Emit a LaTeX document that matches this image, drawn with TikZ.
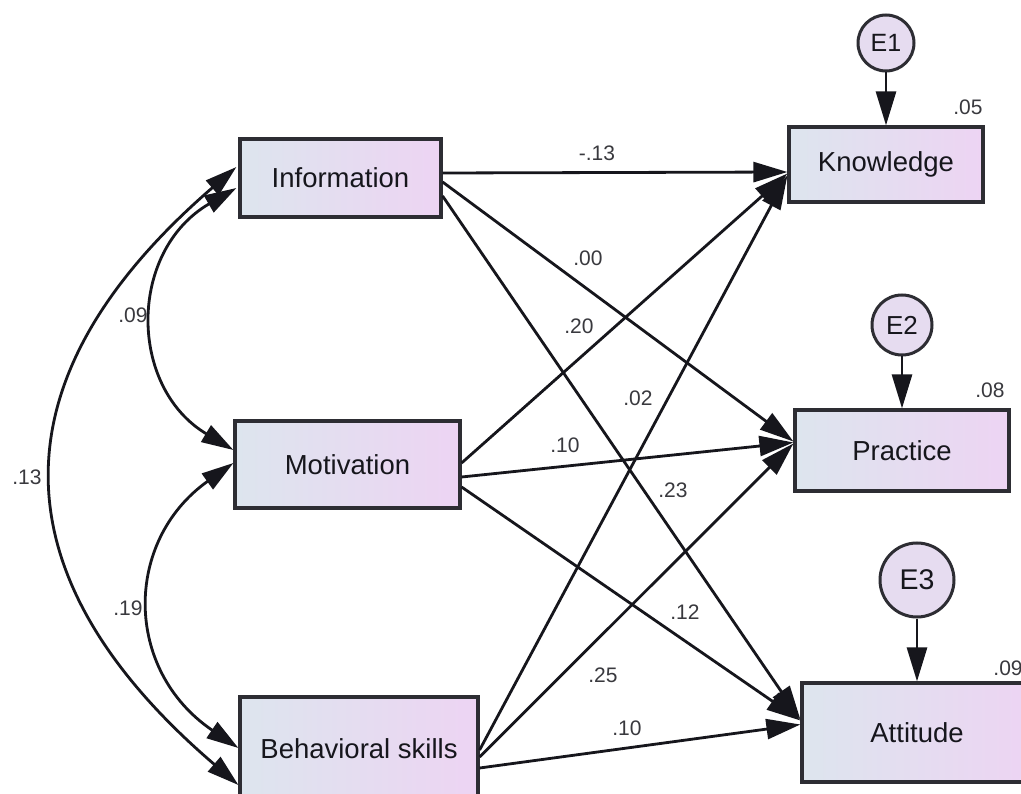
\documentclass[tikz,border=0pt]{standalone}
\usepackage{fontspec}
\setmainfont{Liberation Sans}
\usetikzlibrary{arrows.meta,calc}
\definecolor{boxL}{RGB}{221,229,238}
\definecolor{boxR}{RGB}{237,212,243}
\definecolor{errfill}{RGB}{230,220,240}
\definecolor{ink}{RGB}{22,22,28}
\tikzset{
  varbox/.style={draw=ink!90, line width=3.2pt, left color=boxL, right color=boxR, text=ink,
    font=\fontsize{27.5}{30}\selectfont, inner sep=0pt},
  errc/.style={circle, draw=ink!90, line width=3pt, fill=errfill, text=ink, inner sep=0pt},
  regarrow/.style={draw=ink, line width=2.8pt, -{Triangle[length=34pt,width=20pt]}},
  covarrow/.style={draw=ink, line width=2.8pt,
    {Triangle[length=32pt,width=19pt]}-{Triangle[length=32pt,width=19pt]}},
  coef/.style={text=ink!85, font=\fontsize{21}{24}\selectfont, inner sep=0pt},
}
\begin{document}
\begin{tikzpicture}[x=1pt,y=-1pt]
\useasboundingbox (0,0) rectangle (1021,794);
\fill[white] (0,0) rectangle (1021,794);
\clip (0,0) rectangle (1021,794);

% observed variables
\node[varbox, minimum width=201pt, minimum height=78pt] (info) at (340.5,178) {Information};
\node[varbox, minimum width=225pt, minimum height=87pt] (mot) at (347.5,464.5) {Motivation};
\node[varbox, minimum width=238pt, minimum height=103pt] (beh) at (359,748.5) {Behavioral skills};
\node[varbox, minimum width=194pt, minimum height=75pt] (know) at (886,164.5) {Knowledge};
\node[varbox, minimum width=214pt, minimum height=81pt] (prac) at (902,450.5) {Practice};
\node[varbox, minimum width=230pt, minimum height=99pt] (att) at (917,732.5) {Attitude};

% error terms
\node[errc, minimum size=56pt, font=\fontsize{25}{28}\selectfont] (e1) at (886,43) {E1};
\node[errc, minimum size=60pt, font=\fontsize{26}{28}\selectfont] (e2) at (902,325) {E2};
\node[errc, minimum size=74pt, font=\fontsize{28.5}{30}\selectfont] (e3) at (917,580) {E3};

\draw[regarrow] (e1.south) -- (e1.south |- know.north);
\draw[regarrow] (e2.south) -- (e2.south |- prac.north);
\draw[regarrow] (e3.south) -- (e3.south |- att.north);

% regression paths
\draw[regarrow] ($(info.east)+(0,-5)$) -- ($(know.west)+(0,7.5)$);
\draw[regarrow] ($(info.east)+(0,4)$) -- ($(prac.west)+(0,-9)$);
\draw[regarrow] ($(info.east)+(0,18)$) -- ($(att.west)+(0,-13)$);
\draw[regarrow] ($(mot.east)+(0,-1.5)$) -- ($(know.west)+(0,9)$);
\draw[regarrow] ($(mot.east)+(0,12.5)$) -- ($(prac.west)+(0,-8)$);
\draw[regarrow] ($(mot.east)+(0,22.5)$) -- ($(att.west)+(0,-12)$);
\draw[regarrow] ($(beh.east)+(0,1.5)$) -- ($(know.west)+(0,11)$);
\draw[regarrow] ($(beh.east)+(0,8.5)$) -- ($(prac.west)+(0,-7)$);
\draw[regarrow] ($(beh.east)+(0,19.5)$) -- ($(att.west)+(0,-8)$);

% covariances
\draw[covarrow] ($(info.west)+(-2,10)$) .. controls (128,251) and (128,387) .. ($(mot.west)+(0,-14.5)$);
\draw[covarrow] ($(info.west)+(-2,-11)$) .. controls (-7,377) and (-7,575) .. ($(beh.west)+(0,36.5)$);
\draw[covarrow] ($(mot.west)+(0,-1.5)$) .. controls (123.5,541) and (123.5,670) .. ($(beh.west)+(0,-0.5)$);

% coefficients
\node[coef] (c1) at (597,153) {-.13};
\node[coef] (c2) at (588,258) {.00};
\node[coef] (c3) at (579,326) {.20};
\node[coef] (c4) at (638,398) {.02};
\node[coef] (c5) at (565,445) {.10};
\node[coef] (c6) at (673,490) {.23};
\node[coef] (c7) at (685,612) {.12};
\node[coef] (c8) at (603,675) {.25};
\node[coef] (c9) at (627,728) {.10};
\node[coef] (r1) at (133,315) {.09};
\node[coef] (r2) at (27,477) {.13};
\node[coef] (r3) at (128,608) {.19};
\node[coef] (s1) at (968,107) {.05};
\node[coef] (s2) at (990,390) {.08};
\node[coef] (s3) at (1008,668) {.09};
\end{tikzpicture}
\end{document}
